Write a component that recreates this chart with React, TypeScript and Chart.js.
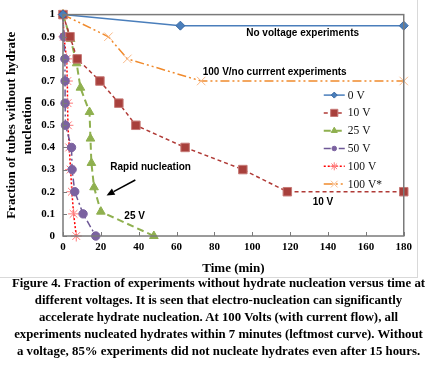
import React, { useEffect, useRef } from "react";
import { Chart, registerables } from "chart.js";
Chart.register(...registerables);

// ---- data ----
const xTickValues = [0, 20, 40, 60, 80, 100, 120, 140, 160, 180];
const yTickValues = [0, 0.1, 0.2, 0.3, 0.4, 0.5, 0.6, 0.7, 0.8, 0.9, 1];

const t0V = [0, 62, 180];
const f0V = [1, 0.95, 0.95];

const t10V = [0, 3.7, 7.5, 19.5, 29.5, 38.5, 64.5, 95, 118.5, 180];
const f10V = [1, 0.9, 0.8, 0.7, 0.6, 0.5, 0.4, 0.3, 0.2, 0.2];

const t25V = [0, 4, 7.2, 9.2, 14, 14.5, 15, 16.4, 20, 48];
const f25V = [1, 0.89, 0.78, 0.67, 0.56, 0.44, 0.33, 0.22, 0.11, 0];

const t50V = [0, 0.5, 1.0, 1.1, 1.1, 1.3, 4.5, 4.8, 6.2, 10.6, 17.3];
const f50V = [1, 0.9, 0.8, 0.7, 0.6, 0.5, 0.4, 0.3, 0.2, 0.1, 0];

const t100V = [0, 0.5, 1.9, 2.3, 2.4, 2.6, 3.3, 4, 4.7, 5.6, 7];
const f100V = [1, 0.9, 0.8, 0.7, 0.6, 0.5, 0.4, 0.3, 0.2, 0.1, 0];

const t100Vs = [0, 24, 34, 73, 180];
const f100Vs = [1, 0.9, 0.8, 0.7, 0.7];

const seriesLabels = ["0 V", "10 V", "25 V", "50 V", "100 V", "100 V*"];

const annotationTexts = [
  { text: "No voltage experiments", x: 126.6, y: 0.915, align: "center" },
  { text: "100 V/no currrent experiments", x: 73.8, y: 0.74, align: "left" },
  { text: "Rapid nucleation", x: 25, y: 0.31, align: "left" },
  { text: "25 V", x: 32.4, y: 0.088, align: "left" },
  { text: "10 V", x: 131.9, y: 0.153, align: "left" },
];
const arrowFrom = { x: 38.2, y: 0.253 };
const arrowTo = { x: 23, y: 0.183 };

const captionLines = [
  "Figure 4. Fraction of experiments without hydrate nucleation versus time at",
  "different voltages. It is seen that electro-nucleation can significantly",
  "accelerate hydrate nucleation. At 100 Volts (with current flow), all",
  "experiments nucleated hydrates within 7 minutes (leftmost curve). Without",
  "a voltage, 85% experiments did not nucleate hydrates even after 15 hours.",
];

const pts = (xs: number[], ys: number[]) => xs.map((x, i) => ({ x, y: ys[i] }));

const overlay = {
  id: "overlay",
  afterDraw(chart: any) {
    const { ctx, chartArea, scales } = chart;
    const xs = scales.x;
    const ys = scales.y;
    ctx.save();
    // frame
    ctx.strokeStyle = "#7a7a7a";
    ctx.lineWidth = 1.5;
    ctx.strokeRect(chartArea.left, chartArea.top, chartArea.right - chartArea.left, chartArea.bottom - chartArea.top);
    // inward ticks
    ctx.beginPath();
    xTickValues.forEach((v) => {
      const px = Math.round(xs.getPixelForValue(v)) + 0.5;
      ctx.moveTo(px, chartArea.bottom);
      ctx.lineTo(px, chartArea.bottom - 4);
    });
    yTickValues.forEach((v) => {
      const py = Math.round(ys.getPixelForValue(v)) + 0.5;
      ctx.moveTo(chartArea.left, py);
      ctx.lineTo(chartArea.left + 4, py);
    });
    ctx.lineWidth = 1;
    ctx.stroke();

    // annotations
    ctx.fillStyle = "#000";
    ctx.font = "bold 10px 'Liberation Sans', Arial, sans-serif";
    ctx.textBaseline = "middle";
    annotationTexts.forEach((a) => {
      ctx.textAlign = a.align as CanvasTextAlign;
      ctx.fillText(a.text, xs.getPixelForValue(a.x), ys.getPixelForValue(a.y));
    });
    // arrow
    const x1 = xs.getPixelForValue(arrowFrom.x);
    const y1 = ys.getPixelForValue(arrowFrom.y);
    const x2 = xs.getPixelForValue(arrowTo.x);
    const y2 = ys.getPixelForValue(arrowTo.y);
    const ang = Math.atan2(y2 - y1, x2 - x1);
    const hl = 8;
    const bx = x2 - hl * Math.cos(ang);
    const by = y2 - hl * Math.sin(ang);
    ctx.strokeStyle = "#000";
    ctx.lineWidth = 1.5;
    ctx.beginPath();
    ctx.moveTo(x1, y1);
    ctx.lineTo(bx, by);
    ctx.stroke();
    ctx.beginPath();
    ctx.moveTo(x2, y2);
    ctx.lineTo(bx + 3.5 * Math.sin(ang), by - 3.5 * Math.cos(ang));
    ctx.lineTo(bx - 3.5 * Math.sin(ang), by + 3.5 * Math.cos(ang));
    ctx.closePath();
    ctx.fill();

    // legend
    const lx0 = chartArea.right - 80;
    const lx1 = chartArea.right - 59;
    const tx = chartArea.right - 56;
    const ly0 = chartArea.top + 80.5;
    const step = 17.8;
    chart.data.datasets.forEach((ds: any, i: number) => {
      const y = ly0 + i * step;
      ctx.save();
      ctx.strokeStyle = ds.borderColor;
      ctx.lineWidth = ds.borderWidth;
      ctx.setLineDash(ds.borderDash || []);
      ctx.beginPath();
      ctx.moveTo(lx0, y);
      ctx.lineTo(lx1, y);
      ctx.stroke();
      ctx.restore();
      const meta = chart.getDatasetMeta(i);
      const el = meta.data[0];
      if (el) {
        const o = el.options;
        ctx.save();
        ctx.fillStyle = o.backgroundColor;
        ctx.strokeStyle = o.borderColor;
        ctx.lineWidth = o.borderWidth;
        const r = Math.max(2.5, o.radius - 1.5);
        drawMarker(ctx, o.pointStyle, (lx0 + lx1) / 2, y, r);
        ctx.restore();
      }
      ctx.fillStyle = "#111";
      ctx.font = "11.5px 'Liberation Serif', 'Times New Roman', serif";
      ctx.textAlign = "left";
      ctx.textBaseline = "middle";
      ctx.fillText(chart.data.datasets[i].label, tx, y + 0.5);
    });
    ctx.restore();
  },
};

function drawMarker(ctx: CanvasRenderingContext2D, style: string, x: number, y: number, r: number) {
  ctx.beginPath();
  if (style === "rectRot") {
    ctx.moveTo(x, y - r); ctx.lineTo(x + r, y); ctx.lineTo(x, y + r); ctx.lineTo(x - r, y); ctx.closePath();
    ctx.fill(); ctx.stroke();
  } else if (style === "rect") {
    const s = r * 0.8;
    ctx.rect(x - s, y - s, 2 * s, 2 * s); ctx.fill(); ctx.stroke();
  } else if (style === "triangle") {
    ctx.moveTo(x, y - r); ctx.lineTo(x + r * 0.87, y + r * 0.5); ctx.lineTo(x - r * 0.87, y + r * 0.5); ctx.closePath();
    ctx.fill(); ctx.stroke();
  } else if (style === "circle") {
    ctx.arc(x, y, r * 0.85, 0, Math.PI * 2); ctx.fill(); ctx.stroke();
  } else if (style === "star") {
    for (let k = 0; k < 4; k++) {
      const a = (k * Math.PI) / 4;
      ctx.moveTo(x - r * Math.cos(a), y - r * Math.sin(a));
      ctx.lineTo(x + r * Math.cos(a), y + r * Math.sin(a));
    }
    ctx.stroke();
  } else if (style === "crossRot") {
    const s = r * 0.75;
    ctx.moveTo(x - s, y - s); ctx.lineTo(x + s, y + s);
    ctx.moveTo(x + s, y - s); ctx.lineTo(x - s, y + s);
    ctx.stroke();
  }
}

export default function App() {
  const ref = useRef<HTMLCanvasElement | null>(null);
  useEffect(() => {
    if (!ref.current) return;
    const mk = (label: string, data: any[], color: string, dash: number[], width: number, style: string, ptFill: string, ptBorder: string, radius: number, ptBW: number) => ({
      label,
      data,
      showLine: true,
      borderColor: color,
      borderDash: dash,
      borderWidth: width,
      pointStyle: style,
      pointBackgroundColor: ptFill,
      pointBorderColor: ptBorder,
      pointBorderWidth: ptBW,
      pointRadius: radius,
      clip: false,
      tension: 0,
    });
    const chart = new Chart(ref.current, {
      type: "scatter",
      data: {
        datasets: [
          mk(seriesLabels[0], pts(t0V, f0V), "#4a7ebb", [], 1.5, "rectRot", "#4a7ebb", "#3b6aa3", 4.5, 1),
          mk(seriesLabels[1], pts(t10V, f10V), "#b03a36", [4, 3], 1.5, "rect", "#a8403c", "#c77a77", 6, 1),
          mk(seriesLabels[2], pts(t25V, f25V), "#8fb04f", [7, 4], 2, "triangle", "#8fb04f", "#8fb04f", 5, 1),
          mk(seriesLabels[3], pts(t50V, f50V), "#6e5896", [7, 3, 2, 3], 1.5, "circle", "#7b62a0", "#7b62a0", 4.2, 1),
          mk(seriesLabels[4], pts(t100V, f100V), "#ff0000", [2, 2], 1.5, "star", "#ff8080", "#ff7b7b", 5.5, 1),
          mk(seriesLabels[5], pts(t100Vs, f100Vs), "#f08a2c", [9, 3, 2, 3, 2, 3], 1.5, "crossRot", "#fac090", "#f9b987", 6, 1),
        ],
      },
      options: {
        animation: false,
        responsive: false,
        maintainAspectRatio: false,
        layout: { padding: { top: 7, right: 10, left: 0, bottom: 0 } },
        plugins: { legend: { display: false }, tooltip: { enabled: false } },
        scales: {
          x: {
            type: "linear",
            min: 0,
            max: 180,
            afterBuildTicks: (s: any) => { s.ticks = xTickValues.map((v) => ({ value: v })); },
            afterFit: (s: any) => { s.height = 41; },
            grid: { display: false, drawTicks: false },
            border: { display: false },
            ticks: {
              padding: 5,
              color: "#000",
              font: { family: "'Liberation Serif', 'Times New Roman', serif", size: 11, weight: "bold" },
              maxRotation: 0,
            },
            title: {
              display: true,
              text: "Time (min)",
              color: "#000",
              font: { family: "'Liberation Serif', 'Times New Roman', serif", size: 13, weight: "bold" },
              padding: { top: 0, bottom: 1 },
            },
          },
          y: {
            type: "linear",
            min: 0,
            max: 1,
            afterBuildTicks: (s: any) => { s.ticks = yTickValues.map((v) => ({ value: v })); },
            afterFit: (s: any) => { s.width = 63; },
            grid: { display: false, drawTicks: false },
            border: { display: false },
            ticks: {
              padding: 8,
              color: "#000",
              font: { family: "'Liberation Serif', 'Times New Roman', serif", size: 11, weight: "bold" },
              callback: (v: any) => String(Number(Number(v).toFixed(1))),
            },
            title: {
              display: true,
              text: ["Fraction of tubes without hydrate", "nucleation"],
              color: "#000",
              font: { family: "'Liberation Serif', 'Times New Roman', serif", size: 13, weight: "bold" },
              padding: { top: 4, bottom: 0 },
            },
          },
        },
      },
      plugins: [overlay],
    } as any);
    return () => chart.destroy();
  }, []);

  return (
    <div style={{ position: "absolute", left: 0, top: 0, width: 437, height: 367, background: "#fff" }}>
      <div style={{ position: "absolute", left: 0, top: 0, width: 417, height: 277, borderRight: "1px solid #d9d9d9", borderBottom: "1px solid #d9d9d9" }}>
        <canvas ref={ref} width={417} height={277} style={{ display: "block", width: 417, height: 277 }} />
      </div>
      <div
        style={{
          position: "absolute",
          left: 0,
          top: 275,
          width: 437,
          textAlign: "center",
          fontFamily: "'Liberation Serif', 'Times New Roman', serif",
          fontWeight: "bold",
          fontSize: 12.8,
          lineHeight: "17px",
          color: "#000",
          whiteSpace: "nowrap",
        }}
      >
        {captionLines.map((l, i) => (
          <div key={i}>{l}</div>
        ))}
      </div>
    </div>
  );
}
